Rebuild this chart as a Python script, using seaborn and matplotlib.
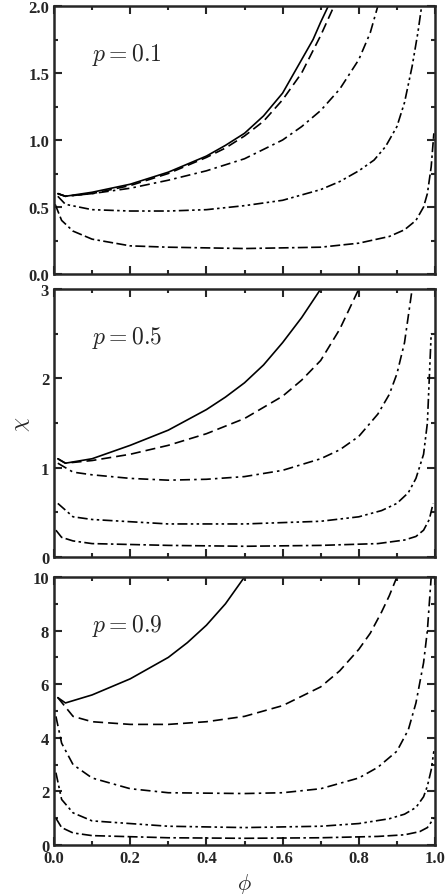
import numpy as np
import matplotlib
matplotlib.use("Agg")
import matplotlib.pyplot as plt
import seaborn as sns
from matplotlib.ticker import AutoMinorLocator

sns.set_style("ticks")
plt.rcParams['font.family'] = ['Liberation Serif', 'DejaVu Serif']
plt.rcParams['mathtext.fontset'] = 'cm'

# ---- data: panel p=0.1 ----
p1_solid_x = [0.01, 0.03, 0.1, 0.2, 0.3, 0.4, 0.45, 0.5, 0.55, 0.6, 0.65, 0.68, 0.7, 0.72]
p1_solid_y = [0.6, 0.58, 0.61, 0.67, 0.76, 0.88, 0.96, 1.05, 1.18, 1.35, 1.6, 1.75, 1.88, 2.0]
p1_dash_x = [0.01, 0.03, 0.1, 0.2, 0.3, 0.4, 0.45, 0.5, 0.55, 0.6, 0.65, 0.7, 0.735]
p1_dash_y = [0.6, 0.58, 0.6, 0.66, 0.75, 0.87, 0.94, 1.03, 1.14, 1.3, 1.5, 1.78, 2.0]
p1_dd_x = [0.01, 0.03, 0.1, 0.2, 0.3, 0.4, 0.5, 0.6, 0.65, 0.7, 0.75, 0.8, 0.83, 0.85]
p1_dd_y = [0.6, 0.58, 0.6, 0.64, 0.7, 0.77, 0.86, 1.0, 1.1, 1.22, 1.38, 1.6, 1.8, 2.0]
p1_ddd_x = [0.01, 0.03, 0.1, 0.2, 0.3, 0.4, 0.5, 0.6, 0.7, 0.75, 0.8, 0.84, 0.87, 0.9, 0.92, 0.94, 0.955, 0.965]
p1_ddd_y = [0.58, 0.52, 0.48, 0.47, 0.47, 0.48, 0.51, 0.55, 0.63, 0.69, 0.77, 0.85, 0.95, 1.1, 1.28, 1.55, 1.8, 2.0]
p1_bot_x = [0.003, 0.02, 0.05, 0.1, 0.2, 0.3, 0.5, 0.7, 0.8, 0.88, 0.92, 0.95, 0.97, 0.98, 0.99, 0.997]
p1_bot_y = [0.52, 0.4, 0.32, 0.26, 0.21, 0.2, 0.19, 0.2, 0.23, 0.28, 0.33, 0.4, 0.5, 0.6, 0.8, 1.05]

# ---- data: panel p=0.5 ----
p2_solid_x = [0.01, 0.03, 0.1, 0.2, 0.3, 0.4, 0.45, 0.5, 0.55, 0.6, 0.65, 0.7]
p2_solid_y = [1.1, 1.05, 1.1, 1.25, 1.42, 1.65, 1.79, 1.95, 2.15, 2.4, 2.68, 3.0]
p2_dash_x = [0.01, 0.03, 0.1, 0.2, 0.3, 0.4, 0.5, 0.6, 0.65, 0.7, 0.75, 0.8]
p2_dash_y = [1.1, 1.05, 1.08, 1.15, 1.25, 1.38, 1.55, 1.8, 1.98, 2.2, 2.55, 3.0]
p2_dd_x = [0.01, 0.05, 0.1, 0.2, 0.3, 0.4, 0.5, 0.6, 0.7, 0.75, 0.8, 0.85, 0.88, 0.9, 0.92, 0.94]
p2_dd_y = [1.05, 0.95, 0.92, 0.88, 0.86, 0.87, 0.9, 0.97, 1.1, 1.2, 1.35, 1.6, 1.82, 2.05, 2.4, 3.0]
p2_ddd_x = [0.01, 0.05, 0.1, 0.3, 0.5, 0.7, 0.8, 0.86, 0.9, 0.93, 0.95, 0.97, 0.98, 0.99]
p2_ddd_y = [0.6, 0.45, 0.42, 0.37, 0.37, 0.4, 0.45, 0.52, 0.6, 0.72, 0.88, 1.15, 1.5, 2.5]
p2_bot_x = [0.005, 0.02, 0.05, 0.1, 0.3, 0.5, 0.7, 0.85, 0.92, 0.95, 0.97, 0.985, 0.995]
p2_bot_y = [0.3, 0.22, 0.18, 0.15, 0.13, 0.12, 0.13, 0.15, 0.19, 0.23, 0.3, 0.42, 0.6]

# ---- data: panel p=0.9 ----
p3_solid_x = [0.01, 0.03, 0.1, 0.2, 0.3, 0.35, 0.4, 0.45, 0.5]
p3_solid_y = [5.5, 5.3, 5.6, 6.2, 7.0, 7.55, 8.2, 9.0, 10.0]
p3_dash_x = [0.01, 0.05, 0.1, 0.2, 0.3, 0.4, 0.5, 0.6, 0.7, 0.75, 0.8, 0.83, 0.86, 0.88, 0.9]
p3_dash_y = [5.5, 4.8, 4.6, 4.5, 4.5, 4.6, 4.8, 5.2, 5.9, 6.5, 7.3, 7.9, 8.7, 9.3, 10.0]
p3_dd_x = [0.005, 0.02, 0.05, 0.1, 0.2, 0.3, 0.5, 0.6, 0.7, 0.8, 0.85, 0.9, 0.93, 0.95, 0.97, 0.98, 0.99]
p3_dd_y = [4.8, 3.8, 3.0, 2.5, 2.1, 1.95, 1.92, 1.95, 2.1, 2.5, 2.9, 3.5, 4.3, 5.3, 6.8, 8.0, 10.0]
p3_ddd_x = [0.005, 0.02, 0.05, 0.1, 0.3, 0.5, 0.7, 0.8, 0.88, 0.92, 0.95, 0.97, 0.98, 0.99, 0.997]
p3_ddd_y = [2.7, 1.7, 1.2, 0.9, 0.7, 0.65, 0.7, 0.8, 0.98, 1.15, 1.4, 1.8, 2.2, 2.8, 3.5]
p3_bot_x = [0.005, 0.02, 0.05, 0.1, 0.3, 0.5, 0.7, 0.85, 0.92, 0.96, 0.98, 0.997]
p3_bot_y = [1.0, 0.65, 0.45, 0.35, 0.27, 0.25, 0.27, 0.32, 0.38, 0.5, 0.65, 1.0]

panel_labels = ["$p = 0.1$", "$p = 0.5$", "$p = 0.9$"]
ylims = [(0, 2), (0, 3), (0, 10)]
yticks = [[0.0, 0.5, 1.0, 1.5, 2.0], [0, 1, 2, 3], [0, 2, 4, 6, 8, 10]]
yticklabels = [["0.0", "0.5", "1.0", "1.5", "2.0"], ["0", "1", "2", "3"],
               ["0", "2", "4", "6", "8", "10"]]
xticks = [0.0, 0.2, 0.4, 0.6, 0.8, 1.0]
xticklabels = ["0.0", "0.2", "0.4", "0.6", "0.8", "1.0"]

styles = ['-', (0, (6, 3)), (0, (6, 2.5, 1.5, 2.5)), (0, (6, 2, 1.5, 2, 1.5, 2)),
          (0, (6, 2, 6, 2, 1.5, 2))]

panels = [
    [(p1_solid_x, p1_solid_y), (p1_dash_x, p1_dash_y), (p1_dd_x, p1_dd_y), (p1_ddd_x, p1_ddd_y), (p1_bot_x, p1_bot_y)],
    [(p2_solid_x, p2_solid_y), (p2_dash_x, p2_dash_y), (p2_dd_x, p2_dd_y), (p2_ddd_x, p2_ddd_y), (p2_bot_x, p2_bot_y)],
    [(p3_solid_x, p3_solid_y), (p3_dash_x, p3_dash_y), (p3_dd_x, p3_dd_y), (p3_ddd_x, p3_ddd_y), (p3_bot_x, p3_bot_y)],
]

fig = plt.figure(figsize=(4.48, 8.95), dpi=100)
tops = [7, 290, 578]
h = 268
for i in range(3):
    ax = fig.add_axes([54/448, 1 - (tops[i] + h)/895, 381/448, h/895])
    for (x, y), ls in zip(panels[i], styles):
        sns.lineplot(x=x, y=y, ax=ax, color='black', lw=1.2, linestyle=ls)
    ax.set_xlim(0, 1)
    ax.set_ylim(*ylims[i])
    ax.set_yticks(yticks[i])
    ax.set_yticklabels(yticklabels[i], fontsize=12, fontweight='bold')
    ax.set_xticks(xticks)
    if i == 2:
        ax.set_xticklabels(xticklabels, fontsize=12, fontweight='bold')
        ax.set_xlabel(r"$\phi$", fontsize=16)
    else:
        ax.set_xticklabels([])
    ax.xaxis.set_minor_locator(AutoMinorLocator(2))
    ax.yaxis.set_minor_locator(AutoMinorLocator(2))
    ax.tick_params(which='both', direction='in', top=True, right=True, width=1.5)
    ax.tick_params(which='major', length=6)
    ax.tick_params(which='minor', length=3)
    for s in ax.spines.values():
        s.set_linewidth(1.8)
    ax.text(0.1, 0.8, panel_labels[i], transform=ax.transAxes, fontsize=17)
    if i == 1:
        ax.set_ylabel(r"$\chi$", fontsize=16, labelpad=6)

fig.savefig("out.png", dpi=100)
